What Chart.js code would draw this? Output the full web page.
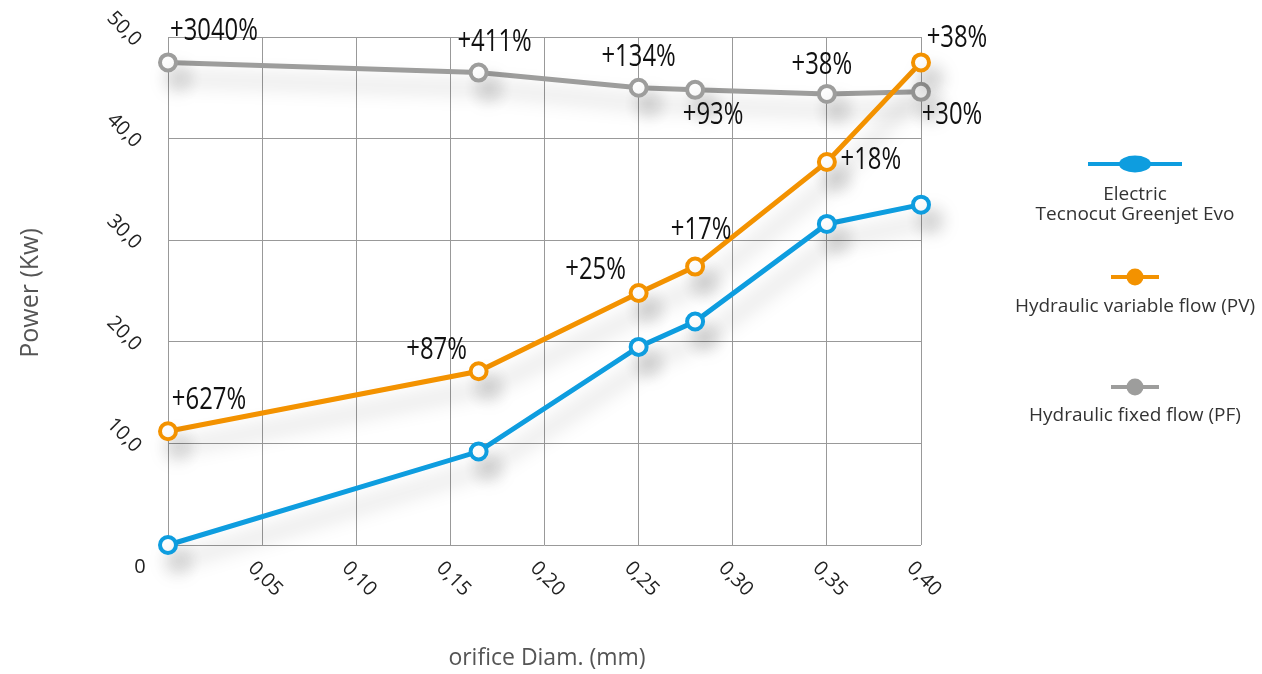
<!DOCTYPE html>
<html>
<head>
<meta charset="utf-8">
<script src="https://cdn.jsdelivr.net/npm/chart.js@4.4.1/dist/chart.umd.min.js"></script>
<style>
html,body{margin:0;padding:0;background:#fff;}
#wrap{width:1262px;height:674px;position:relative;}
</style>
</head>
<body>
<div id="wrap"><canvas id="c"></canvas></div>
<script>
// ---- data ----
const diameters = [0, 0.165, 0.25, 0.28, 0.35, 0.40];
const electric = [0, 9.2, 19.5, 22.0, 31.6, 33.5];
const variableFlow = [11.2, 17.1, 24.8, 27.4, 37.7, 47.5];
const fixedFlow = [47.5, 46.5, 45.0, 44.8, 44.4, 44.6];
const variableFlowLabels = ['+627%', '+87%', '+25%', '+17%', '+18%', '+38%'];
const fixedFlowLabels = ['+3040%', '+411%', '+134%', '+93%', '+38%', '+30%'];
const seriesNames = [['Electric', 'Tecnocut Greenjet Evo'], ['Hydraulic variable flow (PV)'], ['Hydraulic fixed flow (PF)']];
const xTicks = [0.05, 0.10, 0.15, 0.20, 0.25, 0.30, 0.35, 0.40];
const yTicks = [10, 20, 30, 40, 50];

const fmt = (v, d) => v.toFixed(d).replace('.', ',');

// label placement (offsets from the point, px)
const variableOffsets = [[41,-31],[-42,-21],[-43,-23],[6,-36],[44,-2],[36,-24]];
const fixedOffsets = [[46,-31],[16,-30],[0,-31],[18,25],[-5,-29],[31,23]];

const BLUE = '#0e9ddf', ORANGE = '#f39200', GRAY = '#9d9d9c';

function pts(ys){ return diameters.map((x,i)=>({x:x,y:ys[i]})); }
function ds(label, ys, color){
  return {label:label, data:pts(ys), borderColor:color, backgroundColor:'#fff',
    borderWidth:5, pointRadius:8, pointBorderWidth:4, pointBorderColor:color,
    pointBackgroundColor:'#fff', tension:0, clip:false};
}

const shadowPlugin = {
  id:'shadow',
  beforeDatasetDraw(chart){ const c=chart.ctx; c.save();
    c.shadowColor='rgba(0,0,0,0.26)'; c.shadowBlur=20; c.shadowOffsetX=10; c.shadowOffsetY=16; },
  afterDatasetDraw(chart){ chart.ctx.restore(); }
};

const decorPlugin = {
  id:'decor',
  afterDraw(chart){
    const c = chart.ctx, xs = chart.scales.x, ys = chart.scales.y;
    c.save();
    // y tick labels
    c.fillStyle='#222'; c.font='20px "Open Sans", sans-serif';
    c.textAlign='center'; c.textBaseline='middle';
    yTicks.forEach(v=>{
      const py = ys.getPixelForValue(v);
      c.save(); c.translate(xs.left-44, py-8); c.rotate(Math.PI/4);
      c.fillText(fmt(v,1),0,0); c.restore();
    });
    // x tick labels
    xTicks.forEach(v=>{
      const px = xs.getPixelForValue(v);
      c.save(); c.translate(px+3, ys.bottom+34); c.rotate(Math.PI/4);
      c.fillText(fmt(v,2),0,0); c.restore();
    });
    // origin
    c.fillText('0', xs.left-28, ys.bottom+22);
    // axis titles
    c.fillStyle='#555'; c.font='23px "Open Sans", sans-serif';
    c.fillText('orifice Diam. (mm)', 547, 658);
    c.save(); c.translate(31, 293); c.rotate(-Math.PI/2);
    c.font='25px "Open Sans", sans-serif';
    c.fillText('Power (Kw)',0,0); c.restore();
    // percentage labels (condensed)
    c.fillStyle='#111'; c.font='31px "Open Sans", sans-serif';
    const drawLabels = (dsIndex, labels, offs)=>{
      const meta = chart.getDatasetMeta(dsIndex);
      meta.data.forEach((el,i)=>{
        const t = labels[i]; if(!t) return;
        c.save(); c.translate(el.x+offs[i][0], el.y+offs[i][1]); c.scale(0.77,1);
        c.fillText(t, 0, 0); c.restore();
      });
    };
    drawLabels(1, variableFlowLabels, variableOffsets);
    drawLabels(2, fixedFlowLabels, fixedOffsets);
    // legend
    const lx = 1135;
    const items = [
      {y:164, half:47, ellipse:true, texts:[195,215]},
      {y:277, half:24, ellipse:false, texts:[307]},
      {y:387, half:24, ellipse:false, texts:[416]}
    ];
    c.font='19px "Open Sans", sans-serif';
    chart.data.datasets.forEach((d,i)=>{
      const it = items[i];
      c.strokeStyle=d.borderColor; c.lineWidth=4;
      c.beginPath(); c.moveTo(lx-it.half, it.y); c.lineTo(lx+it.half, it.y); c.stroke();
      c.fillStyle=d.borderColor; c.beginPath();
      if(it.ellipse) c.ellipse(lx, it.y, 16, 8.5, 0, 0, Math.PI*2);
      else c.arc(lx, it.y, 8.5, 0, Math.PI*2);
      c.fill();
      c.fillStyle='#333';
      seriesNames[i].forEach((s,k)=> c.fillText(s, lx, it.texts[k]));
    });
    c.restore();
  }
};

new Chart(document.getElementById('c'), {
  type:'line',
  data:{datasets:[
    ds('Electric Tecnocut Greenjet Evo', electric, BLUE),
    ds('Hydraulic variable flow (PV)', variableFlow, ORANGE),
    ds('Hydraulic fixed flow (PF)', fixedFlow, GRAY)
  ]},
  options:{
    responsive:true, maintainAspectRatio:false, animation:false,
    layout:{padding:{left:168, right:341, top:37, bottom:129}},
    plugins:{legend:{display:false}, tooltip:{enabled:false}},
    scales:{
      x:{type:'linear', min:0, max:0.4, ticks:{display:false, stepSize:0.05},
        grid:{color:'#999', lineWidth:1, drawTicks:false}, border:{display:false},
        afterFit(s){ s.height=0; }},
      y:{min:0, max:50, ticks:{display:false, stepSize:10},
        grid:{color:'#999', lineWidth:1, drawTicks:false}, border:{display:false},
        afterFit(s){ s.width=0; }}
    }
  },
  plugins:[shadowPlugin, decorPlugin]
});
</script>
</body>
</html>
